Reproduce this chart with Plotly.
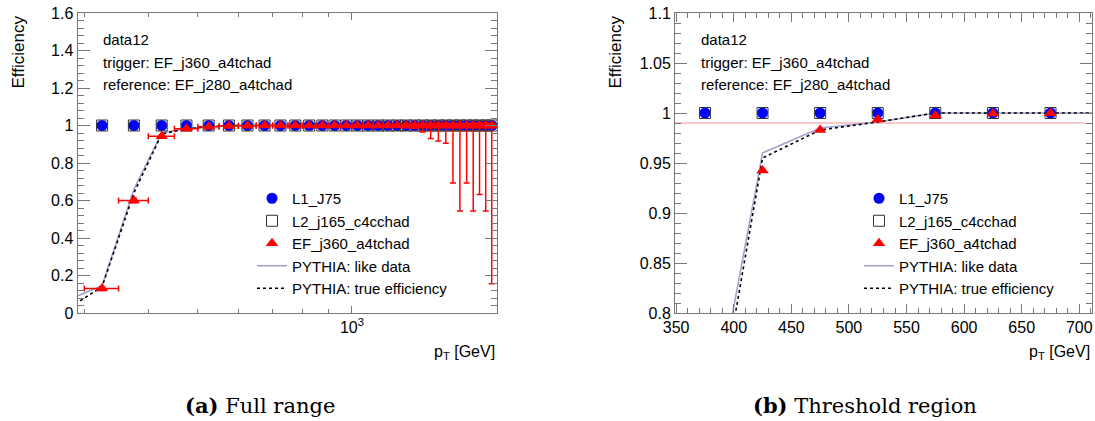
import plotly.graph_objects as go

# ---------------- data: full range (left) ----------------
pt_full = [325, 375, 425, 475, 525, 575, 625, 675, 725, 775, 825, 875, 925, 975,
           1025, 1075, 1125, 1175, 1225, 1275, 1325, 1375, 1425, 1475, 1525, 1575,
           1625, 1675, 1725, 1775, 1825, 1875]
bin_half = [25, 25, 25, 25, 25, 25, 25, 25, 25, 25, 25, 25, 25, 25, 25, 25, 25, 25,
            25, 25, 25, 25, 25, 25, 25, 25, 25, 25, 25, 25, 25, 25]
l1_full = [1.0, 1.0, 1.0, 1.0, 1.0, 1.0, 1.0, 1.0, 1.0, 1.0, 1.0, 1.0, 1.0, 1.0, 1.0, 1.0,
           1.0, 1.0, 1.0, 1.0, 1.0, 1.0, 1.0, 1.0, 1.0, 1.0, 1.0, 1.0, 1.0, 1.0, 1.0, 1.0]
l2_full = [1.0, 1.0, 1.0, 1.0, 1.0, 1.0, 1.0, 1.0, 1.0, 1.0, 1.0, 1.0, 1.0, 1.0, 1.0, 1.0,
           1.0, 1.0, 1.0, 1.0, 1.0, 1.0, 1.0, 1.0, 1.0, 1.0, 1.0, 1.0, 1.0, 1.0, 1.0, 1.0]
ef_full = [0.13, 0.60, 0.943, 0.983, 0.993, 0.997, 0.999, 0.9995, 1.0, 1.0, 1.0, 1.0,
           1.0, 1.0, 1.0, 1.0, 1.0, 1.0, 1.0, 1.0, 1.0, 1.0, 1.0, 1.0, 1.0, 1.0, 1.0,
           1.0, 1.0, 1.0, 1.0, 1.0]
ef_full_err_lo = [0.010, 0.012, 0.004, 0.002, 0.001, 0.001, 0.001, 0.001, 0.001, 0.001,
                  0.001, 0.002, 0.002, 0.003, 0.003, 0.004, 0.005, 0.006, 0.008, 0.010,
                  0.015, 0.035, 0.069, 0.083, 0.094, 0.306, 0.456, 0.306, 0.456, 0.368,
                  0.456, 0.844]
ef_full_err_hi = [0.010, 0.012, 0.004, 0.002, 0.001, 0.001, 0.001, 0.0005, 0.0, 0.0, 0.0,
                  0.0, 0.0, 0.0, 0.0, 0.0, 0.0, 0.0, 0.0, 0.0, 0.0, 0.0, 0.0, 0.0, 0.0,
                  0.0, 0.0, 0.0, 0.0, 0.0, 0.0, 0.0]
mc_pt_full = [275, 325, 375, 425, 475, 525, 575, 625, 675, 725, 775, 825, 875, 925, 975,
              1025, 1075, 1125, 1175, 1225, 1275, 1325, 1375, 1425, 1475, 1525, 1575,
              1625, 1675, 1725, 1775, 1825, 1875, 1925]
mc_like_full = [0.063, 0.145, 0.66, 0.960, 0.985, 0.992, 1.0, 1.0, 1.0, 1.0, 1.0, 1.0,
                1.0, 1.0, 1.0, 1.0, 1.0, 1.0, 1.0, 1.0, 1.0, 1.0, 1.0, 1.0, 1.0, 1.0,
                1.0, 1.0, 1.0, 1.0, 1.0, 1.0, 1.0, 1.0]
mc_true_full = [0.013, 0.14, 0.64, 0.955, 0.983, 0.992, 1.0, 1.0, 1.0, 1.0, 1.0, 1.0,
                1.0, 1.0, 1.0, 1.0, 1.0, 1.0, 1.0, 1.0, 1.0, 1.0, 1.0, 1.0, 1.0, 1.0,
                1.0, 1.0, 1.0, 1.0, 1.0, 1.0, 1.0, 1.0]

# ---------------- data: threshold region (right) ----------------
pt_thr = [375, 425, 475, 525, 575, 625, 675]
l1_thr = [1.0, 1.0, 1.0, 1.0, 1.0, 1.0, 1.0]
l2_thr = [1.0, 1.0, 1.0, 1.0, 1.0, 1.0, 1.0]
ef_thr = [0.60, 0.9425, 0.983, 0.9935, 0.9975, 0.9995, 0.9998]
mc_pt_thr = [375, 425, 475, 525, 575, 625, 675, 725]
mc_like_thr = [0.652, 0.960, 0.985, 0.991, 1.0, 1.0, 1.0, 1.0]
mc_true_thr = [0.625, 0.955, 0.983, 0.991, 1.0, 1.0, 1.0, 1.0]
plateau_x = [349, 705]
plateau_y = [0.99, 0.99]

info_lines = ["data12", "trigger: EF_j360_a4tchad", "reference: EF_j280_a4tchad"]
names = ["L1_J75", "L2_j165_c4cchad", "EF_j360_a4tchad",
         "PYTHIA: like data", "PYTHIA: true efficiency"]
captions = ["<b>(a)</b> Full range", "<b>(b)</b> Threshold region"]

W, H = 1095, 421
FONT = "Liberation Sans"
BLUE = "#0000ff"
RED = "#ff0000"
LAV = "#a3a3cf"
AX = "#777777"

fig = go.Figure()


def add_panel(xa, ya, leg, pts, l1, l2, ef, eflo, efhi, exv, mcx, like, true):
    fig.add_trace(go.Scatter(x=mcx, y=like, mode="lines", name=names[3],
                             line=dict(color=LAV, width=1.6), xaxis=xa, yaxis=ya,
                             legend=leg, legendrank=4))
    fig.add_trace(go.Scatter(x=mcx, y=true, mode="lines", name=names[4],
                             line=dict(color="black", width=1.6, dash="dot"),
                             xaxis=xa, yaxis=ya, legend=leg, legendrank=5))
    fig.add_trace(go.Scatter(x=pts, y=l1, mode="markers", name=names[0],
                             marker=dict(symbol="circle", size=11, color=BLUE),
                             xaxis=xa, yaxis=ya, legend=leg, legendrank=1))
    fig.add_trace(go.Scatter(x=pts, y=l2, mode="markers", name=names[1],
                             marker=dict(symbol="square-open", size=11, color="#333333",
                                         line=dict(width=1, color="#333333")),
                             xaxis=xa, yaxis=ya, legend=leg, legendrank=2))
    ey = None
    if eflo is not None:
        ey = dict(type="data", symmetric=False, array=efhi, arrayminus=eflo,
                  color=RED, thickness=1.5, width=3)
    ex = None
    if exv is not None:
        ex = dict(type="data", array=exv, color=RED, thickness=1.5, width=3)
    fig.add_trace(go.Scatter(x=pts, y=ef, mode="markers", name=names[2],
                             marker=dict(symbol="triangle-up", size=11, color=RED),
                             error_y=ey, error_x=ex,
                             xaxis=xa, yaxis=ya, legend=leg, legendrank=3))


add_panel("x", "y", "legend", pt_full, l1_full, l2_full, ef_full, ef_full_err_lo,
          ef_full_err_hi, bin_half, mc_pt_full, mc_like_full, mc_true_full)

fig.add_trace(go.Scatter(x=plateau_x, y=plateau_y, mode="lines", showlegend=False,
                         line=dict(color="#f29090", width=1), xaxis="x2", yaxis="y2"))
add_panel("x2", "y2", "legend2", pt_thr, l1_thr, l2_thr, ef_thr, None, None, None,
          mc_pt_thr, mc_like_thr, mc_true_thr)

ydom = [108 / H, 408 / H]
common = dict(showline=True, linecolor=AX, linewidth=1, mirror="ticks", ticks="inside",
              tickcolor=AX, showgrid=False, zeroline=False, automargin=False,
              tickfont=dict(family=FONT, size=16, color="black"))

fig.update_layout(
    template="none",
    width=W, height=H, autosize=False,
    margin=dict(l=0, r=0, t=0, b=0, pad=0),
    paper_bgcolor="white", plot_bgcolor="white",
    font=dict(family=FONT, color="black"),
    xaxis=dict(domain=[77.5 / W, 497 / W], type="log",
               range=[2.4639, 3.2833], tickmode="array", tickvals=[1000],
               ticktext=["10<sup>3</sup>"], ticklen=7,
               minor=dict(tickmode="array", tickvals=[300, 400, 500, 600, 700, 800, 900],
                          ticklen=4, ticks="inside", tickcolor=AX),
               anchor="y", **common),
    yaxis=dict(domain=ydom, range=[0, 1.6], tick0=0, dtick=0.2, ticklen=12,
               tickformat="~g",
               minor=dict(dtick=0.04, tick0=0, ticklen=6, ticks="inside", tickcolor=AX),
               anchor="x", **common),
    xaxis2=dict(domain=[675 / W, 1092.3 / W], range=[349, 711.3], tick0=350, dtick=50,
                ticklen=9,
                minor=dict(dtick=10, tick0=350, ticklen=5, ticks="inside", tickcolor=AX),
                anchor="y2", **common),
    yaxis2=dict(domain=ydom, range=[0.8, 1.1], tick0=0.8, dtick=0.05, ticklen=12,
                tickformat="~g",
                minor=dict(dtick=0.01, tick0=0.8, ticklen=6, ticks="inside", tickcolor=AX),
                anchor="x2", **common),
    legend=dict(x=252 / W, xanchor="left", y=(H - 182) / H, yanchor="top",
                bgcolor="rgba(0,0,0,0)", font=dict(family=FONT, size=15, color="black"),
                itemwidth=30, tracegroupgap=0, traceorder="normal"),
    legend2=dict(x=859 / W, xanchor="left", y=(H - 182) / H, yanchor="top",
                 bgcolor="rgba(0,0,0,0)", font=dict(family=FONT, size=15, color="black"),
                 itemwidth=30, tracegroupgap=0, traceorder="normal"),
)

ann = []
for px in (18, 615):
    ann.append(dict(text="Efficiency", x=px / W, y=(H - 14) / H, xref="paper",
                    yref="paper", xanchor="center", yanchor="top", textangle=-90,
                    showarrow=False, font=dict(family=FONT, size=17, color="black")))
for px in (497, 1092):
    ann.append(dict(text="p<sub>T</sub> [GeV]", x=px / W, y=(H - 352) / H, xref="paper",
                    yref="paper", xanchor="right", yanchor="middle", showarrow=False,
                    font=dict(family=FONT, size=16, color="black")))
for px in (101, 699):
    for i, line in enumerate(info_lines):
        ann.append(dict(text=line, x=px / W, y=(H - (40 + 22 * i)) / H, xref="paper",
                        yref="paper", xanchor="left", yanchor="middle", showarrow=False,
                        font=dict(family=FONT, size=15, color="black")))
for px, cap in zip((260, 865), captions):
    ann.append(dict(text=cap, x=px / W, y=(H - 405) / H, xref="paper", yref="paper",
                    xanchor="center", yanchor="middle", showarrow=False,
                    font=dict(family="DejaVu Serif", size=21, color="black")))
fig.update_layout(annotations=ann)

fig.write_html("out.html")
